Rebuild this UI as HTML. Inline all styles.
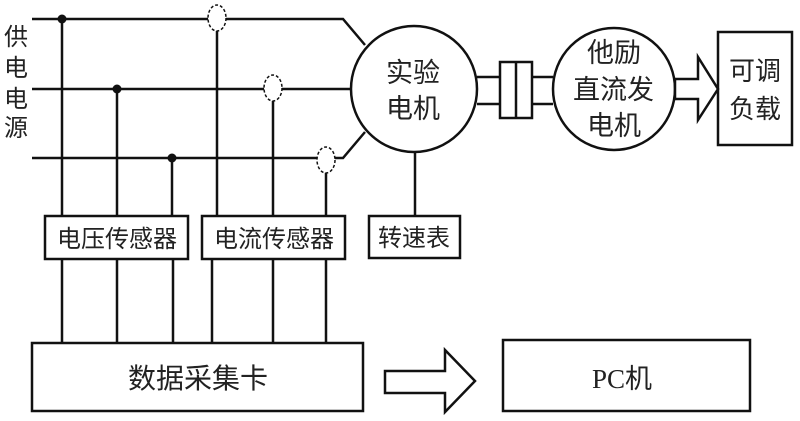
<!DOCTYPE html>
<html><head><meta charset="utf-8"><style>body{margin:0;background:#fff}svg{display:block}text{font-family:"Liberation Serif","Noto Sans CJK SC",sans-serif;fill:#222}</style></head>
<body><svg width="800" height="421" viewBox="0 0 800 421" xmlns="http://www.w3.org/2000/svg">
<g stroke="#111" stroke-width="2.5" fill="none">
<polyline points="32,19 343,19 365,45"/>
<line x1="32" y1="89" x2="352" y2="89"/>
<polyline points="32,158 343,158 365,132"/>
<line x1="62" y1="19" x2="62" y2="216"/>
<line x1="117" y1="89" x2="117" y2="216"/>
<line x1="172" y1="158" x2="172" y2="216"/>
<line x1="217" y1="31" x2="217" y2="216"/>
<line x1="273" y1="101" x2="273" y2="216"/>
<line x1="326" y1="172" x2="326" y2="216"/>
<line x1="62" y1="259" x2="62" y2="343"/>
<line x1="117" y1="259" x2="117" y2="343"/>
<line x1="173" y1="259" x2="173" y2="343"/>
<line x1="212" y1="259" x2="212" y2="343"/>
<line x1="273" y1="259" x2="273" y2="343"/>
<line x1="326" y1="259" x2="326" y2="343"/>
<line x1="415" y1="153" x2="415" y2="216"/>
<circle cx="414" cy="89" r="63" fill="#fff"/>
<circle cx="614" cy="89" r="61" fill="#fff"/>
<line x1="477" y1="77" x2="553" y2="77"/>
<line x1="477" y1="104" x2="553" y2="104"/>
<rect x="500" y="62" width="32" height="56" fill="#fff"/>
<line x1="516" y1="62" x2="516" y2="118"/>
<polygon points="675,79 698,79 698,57 718,89 698,120 698,99 675,99" fill="#fff"/>
<rect x="718" y="32" width="74" height="113"/>
<rect x="45" y="216" width="143" height="43" fill="#fff"/>
<rect x="202" y="216" width="143" height="43" fill="#fff"/>
<rect x="369" y="216" width="91" height="42" fill="#fff"/>
<rect x="32" y="343" width="331" height="68" fill="#fff"/>
<polygon points="385,371 445,371 445,350 475,381 445,412 445,393 385,393"/>
<rect x="503" y="340" width="247" height="71"/>
</g>
<g stroke="#111" stroke-width="1.5" stroke-dasharray="3,2" fill="#fff">
<ellipse cx="217" cy="18" rx="9" ry="13"/>
<ellipse cx="273" cy="88" rx="9" ry="13"/>
<ellipse cx="326" cy="160" rx="9" ry="13"/>
</g>
<g fill="#111"><circle cx="62" cy="19" r="4.5"/><circle cx="117" cy="89" r="4.5"/><circle cx="172" cy="158" r="4.5"/></g>
<g font-size="24">
<text x="4" y="45">供</text><text x="4" y="76">电</text><text x="4" y="107">电</text><text x="4" y="136">源</text>
<text x="386" y="82" font-size="27">实验</text><text x="386" y="118" font-size="27">电机</text>
<text x="587" y="62" font-size="27">他励</text><text x="573" y="99" font-size="27">直流发</text><text x="587" y="135" font-size="27">电机</text>
<text x="729" y="80" font-size="26">可调</text><text x="729" y="118" font-size="26">负载</text>
<text x="57" y="247">电压传感器</text><text x="214" y="247">电流传感器</text><text x="378" y="246">转速表</text>
<text x="128" y="388" font-size="28">数据采集卡</text>
<text x="592" y="388" font-size="27">PC机</text>
</g>
</svg></body></html>
